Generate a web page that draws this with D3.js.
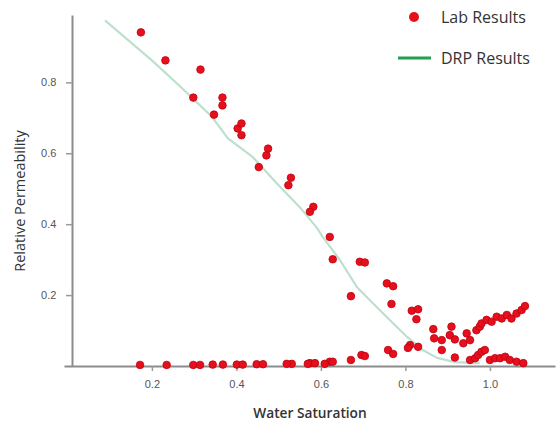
<!DOCTYPE html>
<html>
<head>
<meta charset="utf-8">
<script src="https://cdn.jsdelivr.net/npm/d3@7"></script>
<style>
  body { margin: 0; background: #fff; }
  svg { display: block; font-family: 'Open Sans', sans-serif; }
</style>
</head>
<body>
<div id="chart"></div>
<script>
// lab points: water saturation / relative permeability
const labSw = [
  0.174, 0.232, 0.315, 0.298, 0.367, 0.367, 0.347, 0.403, 0.412, 0.412,
  0.475, 0.471, 0.453, 0.529, 0.523, 0.582, 0.574, 0.621, 0.628, 0.692,
  0.704, 0.671, 0.756, 0.771, 0.767, 0.815, 0.830, 0.826, 0.866, 0.868,
  0.886, 0.886, 0.909, 0.905, 0.917, 0.917, 0.937, 0.945, 0.953,
  0.968, 0.976, 0.980, 0.992, 1.004, 1.016, 1.028, 1.040, 1.051, 1.063, 1.075, 1.083,
  0.953, 0.965, 0.972, 0.980, 0.988, 1.000, 1.012, 1.024, 1.036, 1.047, 1.063, 1.079,
  0.811, 0.830, 0.806, 0.759, 0.771, 0.696, 0.704, 0.671, 0.621, 0.628,
  0.574, 0.586, 0.531, 0.519, 0.569, 0.609, 0.448, 0.463, 0.401, 0.415,
  0.344, 0.368, 0.298, 0.314, 0.235, 0.172
];
const labKr = [
  0.941, 0.862, 0.836, 0.757, 0.757, 0.735, 0.709, 0.670, 0.684, 0.651,
  0.613, 0.594, 0.561, 0.531, 0.510, 0.449, 0.435, 0.364, 0.301, 0.294,
  0.292, 0.197, 0.233, 0.225, 0.175, 0.156, 0.160, 0.132, 0.104, 0.078,
  0.073, 0.045, 0.111, 0.087, 0.075, 0.024, 0.064, 0.092, 0.073,
  0.101, 0.111, 0.120, 0.130, 0.125, 0.139, 0.134, 0.144, 0.134, 0.148, 0.158, 0.169,
  0.017, 0.022, 0.031, 0.040, 0.045, 0.017, 0.022, 0.022, 0.026, 0.017, 0.012, 0.008,
  0.059, 0.054, 0.051, 0.045, 0.034, 0.031, 0.028, 0.017, 0.012, 0.012,
  0.008, 0.008, 0.006, 0.006, 0.006, 0.006, 0.005, 0.005, 0.004, 0.004,
  0.004, 0.004, 0.003, 0.003, 0.003, 0.003
];

// digital rock physics curve
const drpSw = [0.089, 0.200, 0.262, 0.342, 0.380, 0.439, 0.496, 0.550, 0.591, 0.605,
  0.645, 0.685, 0.723, 0.763, 0.804, 0.841, 0.875, 0.917, 0.976];
const drpKr = [0.975, 0.862, 0.794, 0.703, 0.642, 0.589, 0.515, 0.448, 0.389, 0.363,
  0.299, 0.223, 0.177, 0.130, 0.082, 0.045, 0.023, 0.011, 0.008];

const xTicks = [0.2, 0.4, 0.6, 0.8, 1.0];
const yTicks = [0.2, 0.4, 0.6, 0.8];

const width = 558, height = 423;

const svg = d3.select('#chart')
  .append('svg')
  .attr('width', width)
  .attr('height', height);

const x = d3.scaleLinear().domain([-0.008, 1.154]).range([64, 555]);
const y = d3.scaleLinear().domain([0, 0.99]).range([366, 15]);
const axisX = 72;

const gx = svg.append('g')
  .attr('transform', `translate(0,${y(0)})`)
  .call(d3.axisBottom(x).tickValues(xTicks).tickFormat(d3.format('.1f')).tickSize(5).tickSizeOuter(0));

const gy = svg.append('g')
  .attr('transform', `translate(${axisX},0)`)
  .call(d3.axisLeft(y).tickValues(yTicks).tickFormat(d3.format('.1f')).tickSize(6).tickSizeOuter(0));

[gx, gy].forEach(g => {
  g.select('.domain').attr('stroke', '#8c8c8c').attr('stroke-width', 2);
  g.selectAll('.tick line').attr('stroke', '#9a9a9a').attr('stroke-width', 1.5);
  g.selectAll('.tick text').attr('fill', '#555').attr('font-size', 11);
});
gx.selectAll('.tick text').attr('dy', '1.3em');
gy.selectAll('.tick text').attr('dx', '-0.6em');

const line = d3.line()
  .x(i => x(drpSw[i]))
  .y(i => y(drpKr[i]));

svg.append('path')
  .datum(d3.range(drpSw.length))
  .attr('d', line)
  .attr('fill', 'none')
  .attr('stroke', '#bde0cc')
  .attr('stroke-width', 2.2)
  .attr('stroke-linejoin', 'round');

svg.append('g')
  .selectAll('circle')
  .data(d3.range(labSw.length))
  .join('circle')
  .attr('cx', i => x(labSw[i]))
  .attr('cy', i => y(labKr[i]))
  .attr('r', 3.8)
  .attr('fill', '#e5101c')
  .attr('stroke', '#c00010')
  .attr('stroke-width', 0.8);

// axis titles
svg.append('text')
  .attr('x', 310)
  .attr('y', 418)
  .attr('text-anchor', 'middle')
  .attr('font-size', 13.7)
  .attr('font-weight', 600)
  .attr('fill', '#333')
  .text('Water Saturation');

svg.append('text')
  .attr('transform', 'translate(25,201) rotate(-90)')
  .attr('text-anchor', 'middle')
  .attr('font-size', 14.5)
  .attr('fill', '#333')
  .text('Relative Permeability');

// legend
const legend = svg.append('g');
legend.append('circle')
  .attr('cx', 414).attr('cy', 17).attr('r', 5)
  .attr('fill', '#e5101c');
legend.append('line')
  .attr('x1', 398).attr('x2', 431).attr('y1', 58).attr('y2', 58)
  .attr('stroke', '#22a04f').attr('stroke-width', 3);
legend.selectAll('text')
  .data(['Lab Results', 'DRP Results'])
  .join('text')
  .attr('x', 441)
  .attr('y', (d, i) => i ? 58 : 17)
  .attr('dy', '0.35em')
  .attr('font-size', 16)
  .attr('fill', '#333')
  .text(d => d);
</script>
</body>
</html>
